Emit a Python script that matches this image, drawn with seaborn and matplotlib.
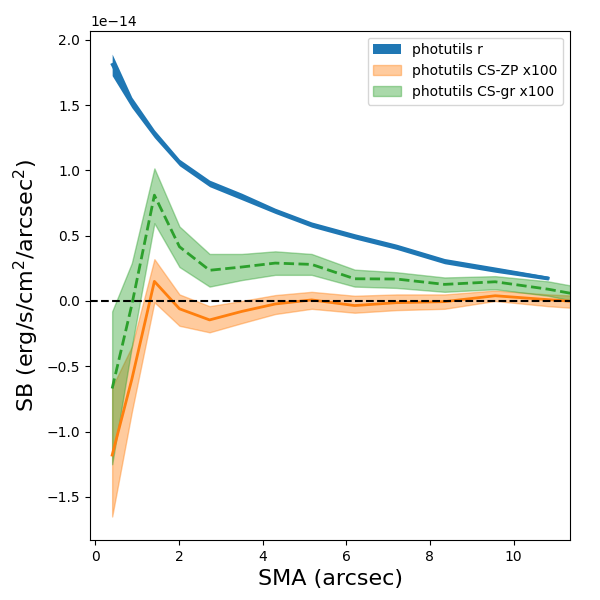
import numpy as np
import pandas as pd
import seaborn as sns
import matplotlib
matplotlib.use("Agg")
import matplotlib.pyplot as plt

# =========================================================
# DATA (SB in units of 1e-14 erg/s/cm^2/arcsec^2)
# =========================================================
sma = [0.4, 0.87, 1.41, 2.01, 2.73, 3.5, 4.3, 5.17, 6.2, 7.2, 8.35, 9.56, 10.83]
sb_r = [1.81, 1.52, 1.28, 1.06, 0.90, 0.80, 0.69, 0.585, 0.495, 0.415, 0.305, 0.24, 0.175]
sb_r_lo = [1.725, 1.48, 1.25, 1.035, 0.875, 0.775, 0.67, 0.565, 0.475, 0.395, 0.285, 0.22, 0.16]
sb_r_hi = [1.89, 1.56, 1.31, 1.085, 0.925, 0.825, 0.71, 0.605, 0.515, 0.435, 0.325, 0.26, 0.19]

sma_cs = [0.4, 0.87, 1.41, 2.01, 2.73, 3.5, 4.3, 5.17, 6.2, 7.2, 8.35, 9.56, 10.83, 12.2]
zp = [-1.18, -0.60, 0.15, -0.06, -0.145, -0.08, -0.023, 0.008, -0.035, -0.013, -0.005, 0.04, 0.01, -0.02]
zp_lo = [-1.65, -0.85, -0.01, -0.19, -0.24, -0.17, -0.10, -0.06, -0.09, -0.07, -0.06, 0.00, -0.04, -0.07]
zp_hi = [-0.66, -0.35, 0.32, 0.05, -0.04, 0.00, 0.045, 0.07, 0.04, 0.05, 0.05, 0.08, 0.05, 0.03]

gr = [-0.67, -0.03, 0.81, 0.415, 0.235, 0.26, 0.29, 0.28, 0.17, 0.168, 0.127, 0.147, 0.09, 0.01]
gr_lo = [-1.25, -0.35, 0.595, 0.26, 0.11, 0.16, 0.20, 0.20, 0.11, 0.10, 0.07, 0.09, 0.04, -0.05]
gr_hi = [-0.08, 0.29, 1.015, 0.57, 0.36, 0.36, 0.38, 0.36, 0.24, 0.22, 0.18, 0.19, 0.15, 0.07]

scale = 1e-14
df_r = pd.DataFrame({"sma": sma, "sb": np.array(sb_r) * scale})
df_cs = pd.DataFrame({"sma": sma_cs,
                      "zp": np.array(zp) * scale,
                      "gr": np.array(gr) * scale})

# =========================================================
# PLOT
# =========================================================
fig, ax = plt.subplots(figsize=(6, 6), dpi=100)
fig.subplots_adjust(left=0.15, right=0.95, bottom=0.1, top=0.949)

ax.fill_between(sma, np.array(sb_r_lo) * scale, np.array(sb_r_hi) * scale,
                color="C0", alpha=1.0, label="photutils r", lw=0)
sns.lineplot(ax=ax, data=df_r, x="sma", y="sb", color="C0", lw=2, legend=False)

ax.fill_between(sma_cs, np.array(zp_lo) * scale, np.array(zp_hi) * scale,
                color="C1", alpha=0.4, label="photutils CS-ZP x100", lw=1)
sns.lineplot(ax=ax, data=df_cs, x="sma", y="zp", color="C1", lw=2, legend=False)

ax.fill_between(sma_cs, np.array(gr_lo) * scale, np.array(gr_hi) * scale,
                color="C2", alpha=0.4, label="photutils CS-gr x100", lw=1)
sns.lineplot(ax=ax, data=df_cs, x="sma", y="gr", color="C2", lw=2,
             linestyle="--", legend=False)

ax.axhline(0, color="black", ls="--", lw=1.5)

ax.set_xlim(-0.13, 11.35)
ax.set_ylim(-1.83e-14, 2.07e-14)
ax.set_xticks([0, 2, 4, 6, 8, 10])
ax.set_yticks(np.arange(-1.5, 2.01, 0.5) * scale)

ax.set_xlabel("SMA (arcsec)", fontsize=16)
ax.set_ylabel("SB (erg/s/cm$^2$/arcsec$^2$)", fontsize=16)
ax.legend(loc="upper right")

plt.savefig("out.png", dpi=100)
